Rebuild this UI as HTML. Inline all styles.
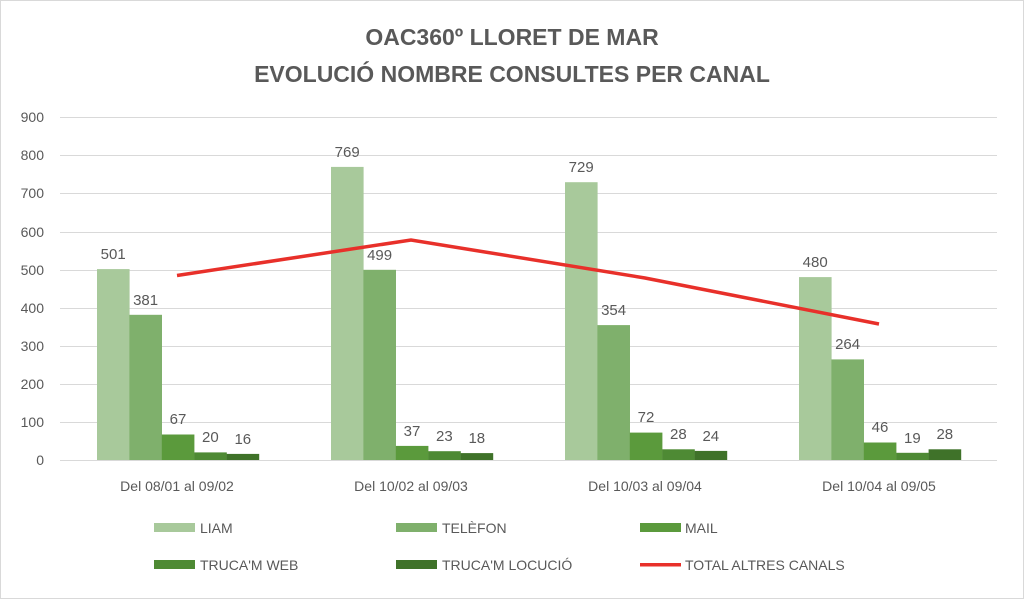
<!DOCTYPE html>
<html><head><meta charset="utf-8"><style>body{margin:0;background:#fff}svg{display:block}text{font-family:"Liberation Sans",sans-serif;fill:#595959}</style></head><body>
<svg width="1024" height="599" viewBox="0 0 1024 599">
<rect x="0.5" y="0.5" width="1023" height="598" fill="#fff" stroke="#d9d9d9"/>
<text x="512" y="45" font-size="23" font-weight="bold" text-anchor="middle">OAC360º LLORET DE MAR</text>
<text x="512" y="82" font-size="23" font-weight="bold" text-anchor="middle">EVOLUCIÓ NOMBRE CONSULTES PER CANAL</text>
<g stroke="#d9d9d9" stroke-width="1">
<line x1="60" x2="997" y1="117.5" y2="117.5"/><line x1="60" x2="997" y1="155.5" y2="155.5"/><line x1="60" x2="997" y1="193.5" y2="193.5"/><line x1="60" x2="997" y1="232.5" y2="232.5"/><line x1="60" x2="997" y1="270.5" y2="270.5"/><line x1="60" x2="997" y1="308.5" y2="308.5"/><line x1="60" x2="997" y1="346.5" y2="346.5"/><line x1="60" x2="997" y1="384.5" y2="384.5"/><line x1="60" x2="997" y1="422.5" y2="422.5"/><line x1="60" x2="997" y1="460.5" y2="460.5"/>
</g>
<g font-size="14" text-anchor="end">
<text x="44" y="122">900</text><text x="44" y="160">800</text><text x="44" y="198">700</text><text x="44" y="237">600</text><text x="44" y="275">500</text><text x="44" y="313">400</text><text x="44" y="351">300</text><text x="44" y="389">200</text><text x="44" y="427">100</text><text x="44" y="465">0</text>
</g>
<g>
<rect x="97" y="269.1" width="32.6" height="190.9" fill="#a8c99b"/>
<rect x="129.4" y="314.8" width="32.6" height="145.2" fill="#7fb06c"/>
<rect x="161.8" y="434.5" width="32.6" height="25.5" fill="#5b9a3c"/>
<rect x="194.2" y="452.4" width="32.6" height="7.6" fill="#4e8a34"/>
<rect x="226.6" y="453.9" width="32.6" height="6.1" fill="#3f7229"/>
<rect x="331" y="166.9" width="32.6" height="293.1" fill="#a8c99b"/>
<rect x="363.4" y="269.8" width="32.6" height="190.2" fill="#7fb06c"/>
<rect x="395.8" y="445.9" width="32.6" height="14.1" fill="#5b9a3c"/>
<rect x="428.2" y="451.2" width="32.6" height="8.8" fill="#4e8a34"/>
<rect x="460.6" y="453.1" width="32.6" height="6.9" fill="#3f7229"/>
<rect x="565" y="182.2" width="32.6" height="277.8" fill="#a8c99b"/>
<rect x="597.4" y="325.1" width="32.6" height="134.9" fill="#7fb06c"/>
<rect x="629.8" y="432.6" width="32.6" height="27.4" fill="#5b9a3c"/>
<rect x="662.2" y="449.3" width="32.6" height="10.7" fill="#4e8a34"/>
<rect x="694.6" y="450.9" width="32.6" height="9.1" fill="#3f7229"/>
<rect x="799" y="277.1" width="32.6" height="182.9" fill="#a8c99b"/>
<rect x="831.4" y="359.4" width="32.6" height="100.6" fill="#7fb06c"/>
<rect x="863.8" y="442.5" width="32.6" height="17.5" fill="#5b9a3c"/>
<rect x="896.2" y="452.8" width="32.6" height="7.2" fill="#4e8a34"/>
<rect x="928.6" y="449.3" width="32.6" height="10.7" fill="#3f7229"/>
</g>
<g font-size="15" text-anchor="middle" style="fill:#404040">
<text x="113.2" y="259" fill="#404040">501</text><text x="145.6" y="305" fill="#404040">381</text><text x="178" y="424" fill="#404040">67</text><text x="210.4" y="442" fill="#404040">20</text><text x="242.8" y="444" fill="#404040">16</text>
<text x="347.2" y="157" fill="#404040">769</text><text x="379.6" y="260" fill="#404040">499</text><text x="412" y="436" fill="#404040">37</text><text x="444.4" y="441" fill="#404040">23</text><text x="476.8" y="443" fill="#404040">18</text>
<text x="581.2" y="172" fill="#404040">729</text><text x="613.6" y="315" fill="#404040">354</text><text x="646" y="422" fill="#404040">72</text><text x="678.4" y="439" fill="#404040">28</text><text x="710.8" y="441" fill="#404040">24</text>
<text x="815.2" y="267" fill="#404040">480</text><text x="847.6" y="349" fill="#404040">264</text><text x="880" y="432" fill="#404040">46</text><text x="912.4" y="443" fill="#404040">19</text><text x="944.8" y="439" fill="#404040">28</text>
</g>
<polyline points="177,275.5 411,240 645,278 879,324" fill="none" stroke="#e8302a" stroke-width="3.5"/>
<g font-size="14" text-anchor="middle">
<text x="177" y="491">Del 08/01 al 09/02</text><text x="411" y="491">Del 10/02 al 09/03</text><text x="645" y="491">Del 10/03 al 09/04</text><text x="879" y="491">Del 10/04 al 09/05</text>
</g>
<g font-size="14">
<rect x="154" y="523" width="41" height="9" fill="#a8c99b"/><text x="200" y="533">LIAM</text>
<rect x="396" y="523" width="41" height="9" fill="#7fb06c"/><text x="442" y="533">TELÈFON</text>
<rect x="640" y="523" width="41" height="9" fill="#5b9a3c"/><text x="685" y="533">MAIL</text>
<rect x="154" y="560" width="41" height="9" fill="#4e8a34"/><text x="200" y="570">TRUCA'M WEB</text>
<rect x="396" y="560" width="41" height="9" fill="#3f7229"/><text x="442" y="570">TRUCA'M LOCUCIÓ</text>
<rect x="640" y="563" width="41" height="3.5" fill="#e8302a"/><text x="685" y="570">TOTAL ALTRES CANALS</text>
</g>
</svg>
</body></html>
